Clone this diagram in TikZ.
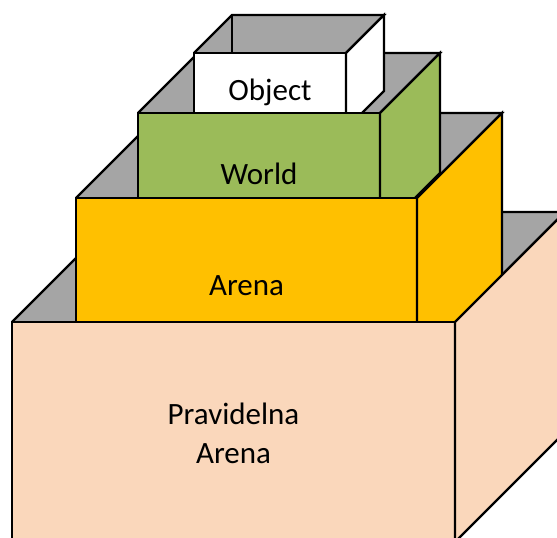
\documentclass[tikz,border=0pt]{standalone}
\usepackage{fontspec}
\setmainfont{Carlito}
\definecolor{innergray}{HTML}{A5A5A5}
\definecolor{pinkbox}{HTML}{FAD7BB}
\definecolor{arenabox}{HTML}{FFC000}
\definecolor{worldbox}{HTML}{9BBB59}
\definecolor{objectbox}{HTML}{FFFFFF}
\tikzset{
  edge/.style={draw=black,line width=2.2pt,line join=miter},
  label/.style={font=\fontsize{31}{39}\selectfont,text=black,inner sep=0pt,anchor=base,align=center}
}
% #1 x, #2 y (front top-left), #3 width, #4 height, #5 depth
\newcommand{\cubetop}[5]{%
  \fill[innergray] (#1,#2) -- ++(#5,-#5) -- ++(#3,0) -- ++(-#5,#5) -- cycle;
  \draw[edge] (#1,#2) -- ++(#5,-#5) -- ++(#3,0) -- ++(-#5,#5);
  \draw[edge] (#1+#5,#2-#5) -- ++(0,#4);
}
\newcommand{\cubefaces}[6]{%
  \filldraw[edge,fill=#6] (#1,#2) rectangle ++(#3,#4);
  \filldraw[edge,fill=#6] (#1+#3,#2) -- ++(#5,-#5) -- ++(0,#4) -- ++(-#5,#5) -- cycle;
}
\begin{document}
\begin{tikzpicture}[x=1pt,y=-1pt]
\useasboundingbox (0,0) rectangle (557,538);
\clip (0,0) rectangle (557,538);
% tops (outer to inner)
\cubetop{12}{322}{443}{220}{110}
\cubetop{76}{198}{341}{174}{85}
\cubetop{138}{113}{242}{120}{60}
\cubetop{194}{53}{152}{76}{38}
% faces (inner to outer)
\cubefaces{194}{53}{152}{76}{38}{objectbox}
\cubefaces{138}{113}{242}{120}{60}{worldbox}
\cubefaces{76}{198}{341}{174}{85}{arenabox}
\cubefaces{12}{322}{443}{220}{110}{pinkbox}
% labels
\node[label] (object) at (270,100) {Object};
\node[label] (world) at (259,184) {World};
\node[label] (arena) at (246.5,295) {Arena};
\node[label] (pravidelna) at (233.5,463) {Pravidelna\\Arena};
\end{tikzpicture}
\end{document}
